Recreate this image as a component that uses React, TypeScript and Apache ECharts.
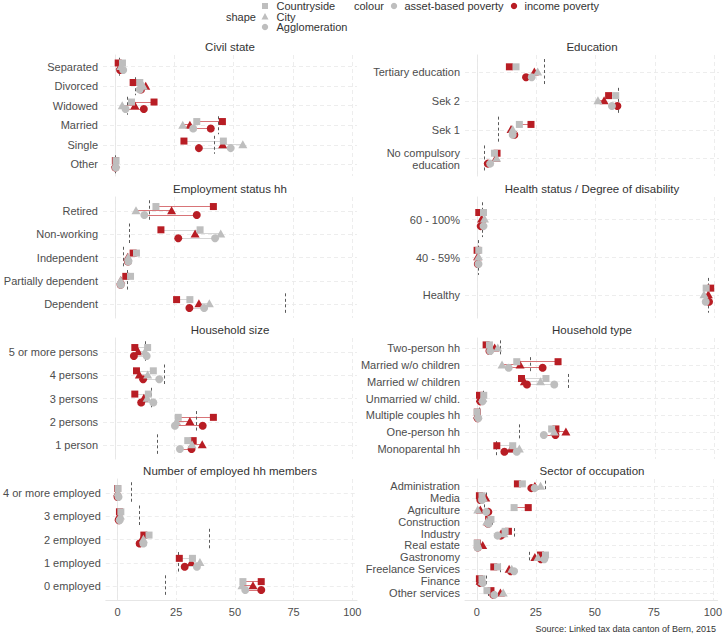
import React, { useEffect, useRef } from "react";
import * as echarts from "echarts";

// ---------- DATA ----------
// Order of value arrays: countryside (square), city (triangle), agglomeration (circle)
// "Asset" = asset-based poverty (grey), "Income" = income poverty (red), "Share" = dashed reference
const civilCats = ["Separated", "Divorced", "Widowed", "Married", "Single", "Other"];
const civilCsAsset = [3.2, 10.5, 7, 34.5, 45.7, 0.5];
const civilCsIncome = [1.4, 7.7, 16.5, 45.3, 29.1, 0.2];
const civilCiAsset = [2.5, 12, 3.1, 28.6, 53.9, 0.4];
const civilCiIncome = [2.2, 13, 8.4, 31.6, 45.4, 0.2];
const civilAgAsset = [3.5, 10.5, 4.5, 33, 48.8, 0.4];
const civilAgIncome = [2.2, 11, 12.2, 40.4, 35.4, 0.2];
const civilShare = [1.7, 8.6, 5.4, 43.6, 41.8, 0];

const eduCats = ["Tertiary education", "Sek 2", "Sek 1", "No compulsory\neducation"];
const eduCsAsset = [16.5, 58.5, 17.9, 7.4];
const eduCsIncome = [13.7, 55.5, 22.8, 8.5];
const eduCiAsset = [25.6, 51, 15.1, 8.3];
const eduCiIncome = [24.2, 53.6, 14.4, 8];
const eduAgAsset = [23.1, 56.9, 15.1, 5.6];
const eduAgIncome = [20.7, 59.2, 15.8, 4.6];
const eduShare = [28.4, 59.4, 9.2, 3.2];

const empCats = ["Retired", "Non-working", "Independent", "Partially dependent", "Dependent"];
const empCsAsset = [17.3, 35.9, 9.1, 6.6, 31.6];
const empCsIncome = [41.5, 19.4, 7.7, 4.6, 26];
const empCiAsset = [8.9, 44.6, 5.6, 2.4, 39.8];
const empCiIncome = [23.9, 33.8, 5.4, 2.5, 35.4];
const empAgAsset = [12.4, 42.2, 5.7, 2.5, 37.6];
const empAgIncome = [34.5, 26.7, 5.5, 2.4, 31.4];
const empShare = [14.5, 5.9, 3.5, 5.2, 71.9];

const healthCats = ["60 - 100%", "40 - 59%", "Healthy"];
const healthCsAsset = [2.8, 0.8, 96.6];
const healthCsIncome = [0.8, 0.1, 98.5];
const healthCiAsset = [3.2, 0.7, 95.7];
const healthCiIncome = [2, 0.3, 97.5];
const healthAgAsset = [2.8, 0.7, 96.4];
const healthAgIncome = [1.6, 0.4, 97.8];
const healthShare = [2.1, 0.6, 97.3];

const sizeCats = ["5 or more persons", "4 persons", "3 persons", "2 persons", "1 person"];
const sizeCsAsset = [13.8, 16.2, 14.1, 26.7, 30.7];
const sizeCsIncome = [8.4, 9.1, 8.4, 41.5, 33];
const sizeCiAsset = [12.7, 13.8, 13.6, 26, 32.5];
const sizeCiIncome = [9.8, 10.3, 12.2, 31.6, 36.8];
const sizeAgAsset = [13.4, 18.7, 16.2, 25.3, 27.4];
const sizeAgIncome = [8, 11.9, 11.1, 37, 32.3];
const sizeShare = [12.7, 20.9, 15.5, 34.2, 17.7];

const typeCats = ["Two-person hh", "Married w/o children", "Married w/ children", "Unmarried w/ child.", "Multiple couples hh", "One-person hh", "Monoparental hh"];
const typeCsAsset = [5.3, 16.8, 29.1, 2.9, 0.1, 31.5, 15.1];
const typeCsIncome = [3.9, 34.2, 18.8, 1.1, 0.2, 33.3, 8.4];
const typeCiAsset = [8.8, 10.6, 26.8, 2.5, 0.3, 32.6, 17.9];
const typeCiIncome = [7.5, 18.2, 20, 1.5, 0.2, 37.5, 14.4];
const typeAgAsset = [5.6, 13.4, 32.6, 2.4, 0.6, 28.2, 16.8];
const typeAgIncome = [5.3, 27.7, 21.1, 1.4, 0.3, 33.1, 11.6];
const typeShare = [9.8, 22.3, 38.5, 2.8, 0.8, 17.9, 8.1];

const emplCats = ["4 or more employed", "3 employed", "2 employed", "1 employed", "0 employed"];
const emplCsAsset = [0.2, 1.4, 13.4, 31.9, 53.4];
const emplCsIncome = [0, 0.8, 11.2, 26.3, 61.2];
const emplCiAsset = [0.1, 1.2, 11, 35.1, 53];
const emplCiIncome = [0, 0.6, 10.3, 31.4, 57.7];
const emplAgAsset = [0.4, 0.9, 11, 33.8, 54.4];
const emplAgIncome = [0, 0.5, 9.4, 28.6, 61.2];
const emplShare = [6, 9.4, 38.9, 26, 20.4];

const sectorCats = ["Administration", "Media", "Agriculture", "Construction", "Industry", "Real estate", "Gastronomy", "Freelance Services", "Finance", "Other services"];
const sectorCsAsset = [19.3, 2.2, 15.8, 6, 12, 0.1, 29.1, 8.8, 2.2, 4.3];
const sectorCsIncome = [17.2, 1.1, 21.8, 5, 13.4, 0.3, 27, 7.2, 1.1, 6];
const sectorCiAsset = [27, 2.8, 0.4, 4.2, 11.5, 0.5, 25.9, 14.8, 2.3, 11.2];
const sectorCiIncome = [24.6, 3.8, 1.5, 4.5, 10.3, 2.5, 24.6, 13.7, 1.4, 10];
const sectorAgAsset = [24.5, 2.2, 4, 5, 8.8, 0.3, 28.6, 15.8, 2.5, 7.4];
const sectorAgIncome = [23.1, 1.5, 4.9, 4.8, 10.2, 0.4, 27.2, 14.4, 1.5, 7];
const sectorShare = [29.1, 3.9, 3.2, 6.4, 15.8, 0.8, 22.1, 9.8, 4.2, 4.9];

const xTicks = [0, 25, 50, 75, 100];

const panels = [
  { title: "Civil state", cats: civilCats, vals: [civilCsAsset, civilCsIncome, civilCiAsset, civilCiIncome, civilAgAsset, civilAgIncome], share: civilShare },
  { title: "Education", cats: eduCats, vals: [eduCsAsset, eduCsIncome, eduCiAsset, eduCiIncome, eduAgAsset, eduAgIncome], share: eduShare },
  { title: "Employment status hh", cats: empCats, vals: [empCsAsset, empCsIncome, empCiAsset, empCiIncome, empAgAsset, empAgIncome], share: empShare },
  { title: "Health status / Degree of disability", cats: healthCats, vals: [healthCsAsset, healthCsIncome, healthCiAsset, healthCiIncome, healthAgAsset, healthAgIncome], share: healthShare },
  { title: "Household size", cats: sizeCats, vals: [sizeCsAsset, sizeCsIncome, sizeCiAsset, sizeCiIncome, sizeAgAsset, sizeAgIncome], share: sizeShare },
  { title: "Household type", cats: typeCats, vals: [typeCsAsset, typeCsIncome, typeCiAsset, typeCiIncome, typeAgAsset, typeAgIncome], share: typeShare },
  { title: "Number of employed hh members", cats: emplCats, vals: [emplCsAsset, emplCsIncome, emplCiAsset, emplCiIncome, emplAgAsset, emplAgIncome], share: emplShare },
  { title: "Sector of occupation", cats: sectorCats, vals: [sectorCsAsset, sectorCsIncome, sectorCiAsset, sectorCiIncome, sectorAgAsset, sectorAgIncome], share: sectorShare },
];

// ---------- STYLE ----------
const FONT = "Liberation Sans, Arial, Helvetica, sans-serif";
const GREY = "#bebebe";
const RED = "#b81d24";
const SEG_RED = "#d87478";
const SEG_GREY = "#d6d6d6";
const GRID = "#e8e8e8";
const TEXT = "#4d4d4d";
const COL_LEFT = [103, 465];
const PANEL_W = 254;
const ROW_TOP = [55, 197, 338, 479];
const PANEL_H = 121;
const X_MIN = -5;
const X_MAX = 102;

const shapes = [
  { symbol: "rect", size: 7, off: -0.19 },
  { symbol: "triangle", size: [9, 8], off: -0.03 },
  { symbol: "circle", size: 8, off: 0.17 },
];

function buildOption() {
  const grid: any[] = [];
  const xAxis: any[] = [];
  const yAxis: any[] = [];
  const series: any[] = [];
  const graphic: any[] = [];

  panels.forEach((p, i) => {
    const col = i % 2;
    const row = Math.floor(i / 2);
    const n = p.cats.length;
    const left = COL_LEFT[col];
    const top = ROW_TOP[row];
    grid.push({ left, top, width: PANEL_W, height: PANEL_H, containLabel: false });
    xAxis.push({
      gridIndex: i,
      type: "value",
      min: X_MIN,
      max: X_MAX,
      axisLabel: {
        show: row === 3,
        customValues: xTicks,
        color: TEXT,
        fontSize: 11,
        fontFamily: FONT,
        margin: 6,
      },
      axisTick: { show: false },
      axisLine: { show: row === 3, lineStyle: { color: "#e6e6e6", width: 1 } },
      splitLine: { show: false },
    });
    const idx = p.cats.map((_, k) => k + 1);
    yAxis.push({
      gridIndex: i,
      type: "value",
      min: 0.4,
      max: n + 0.6,
      inverse: true,
      axisLabel: {
        customValues: idx,
        formatter: (v: number) => p.cats[Math.round(v) - 1] ?? "",
        color: TEXT,
        fontSize: 11,
        fontFamily: FONT,
        margin: 5,
        lineHeight: 12,
      },
      axisTick: { show: false },
      axisLine: { show: true, lineStyle: { color: "#e6e6e6", width: 1 } },
      splitLine: { show: false },
    });

    // grid lines
    const gl: any[] = [];
    idx.forEach((k) => gl.push({ coords: [[X_MIN, k], [X_MAX, k]] }));
    xTicks.forEach((t) => gl.push({ coords: [[t, 0.4], [t, n + 0.6]] }));
    series.push({
      type: "lines",
      coordinateSystem: "cartesian2d",
      xAxisIndex: i,
      yAxisIndex: i,
      silent: true,
      z: 1,
      lineStyle: { color: GRID, width: 0.8, type: [4, 3], opacity: 1 },
      data: gl,
    });

    // connecting segments
    const segs: any[] = [];
    shapes.forEach((s, si) => {
      const a = p.vals[si * 2];
      const inc = p.vals[si * 2 + 1];
      idx.forEach((k, j) => {
        const y = k + s.off;
        segs.push({
          coords: [[a[j], y], [inc[j], y]],
          lineStyle: { color: inc[j] > a[j] ? SEG_RED : SEG_GREY },
        });
      });
    });
    series.push({
      type: "lines",
      coordinateSystem: "cartesian2d",
      xAxisIndex: i,
      yAxisIndex: i,
      silent: true,
      z: 2,
      lineStyle: { width: 1.2, opacity: 1 },
      data: segs,
    });

    // dashed share reference
    series.push({
      type: "lines",
      coordinateSystem: "cartesian2d",
      xAxisIndex: i,
      yAxisIndex: i,
      silent: true,
      z: 3,
      lineStyle: { color: "#5a5a5a", width: 1, type: [3, 2.5], opacity: 1 },
      data: p.share.map((v, j) => ({ coords: [[v, idx[j] - 0.46], [v, idx[j] + 0.46]] })),
    });

    // points: red (income) first, grey (asset) drawn on top
    [false, true].forEach((isAsset) => {
      shapes.forEach((s, si) => {
        const arr = p.vals[si * 2 + (isAsset ? 0 : 1)];
        series.push({
          type: "scatter",
          xAxisIndex: i,
          yAxisIndex: i,
          symbol: s.symbol,
          symbolSize: s.size,
          z: isAsset ? 5 : 4,
          silent: true,
          itemStyle: { color: isAsset ? GREY : RED, opacity: 1 },
          data: arr.map((v, j) => [v, idx[j] + s.off]),
        });
      });
    });

    graphic.push({
      type: "text",
      x: left + PANEL_W / 2,
      y: top - 8,
      style: {
        text: p.title,
        textAlign: "center",
        textVerticalAlign: "middle",
        fontSize: 11.5,
        fontFamily: FONT,
        fill: "#333333",
      },
    });
  });

  // legend
  const lt = (text: string, x: number, y: number) => ({
    type: "text",
    x,
    y,
    style: { text, textVerticalAlign: "middle", fontSize: 11, fontFamily: FONT, fill: "#333333" },
  });
  const LX = 265;
  graphic.push(lt("shape", 226, 16.5));
  graphic.push({ type: "rect", shape: { x: LX - 3, y: 3, width: 6, height: 6 }, style: { fill: GREY } });
  graphic.push({ type: "polygon", shape: { points: [[LX, 13], [LX + 3.5, 19.5], [LX - 3.5, 19.5]] }, style: { fill: GREY } });
  graphic.push({ type: "circle", shape: { cx: LX, cy: 27, r: 3.2 }, style: { fill: GREY } });
  graphic.push(lt("Countryside", 276.5, 6));
  graphic.push(lt("City", 276.5, 16.5));
  graphic.push(lt("Agglomeration", 276.5, 27));
  graphic.push(lt("colour", 354, 6));
  graphic.push({ type: "circle", shape: { cx: 394, cy: 6, r: 3.2 }, style: { fill: GREY } });
  graphic.push(lt("asset-based poverty", 404.5, 6));
  graphic.push({ type: "circle", shape: { cx: 514, cy: 6, r: 3.2 }, style: { fill: RED } });
  graphic.push(lt("income poverty", 524.5, 6));

  graphic.push({
    type: "text",
    x: 716,
    y: 629,
    style: {
      text: "Source: Linked tax data canton of Bern, 2015",
      textAlign: "right",
      textVerticalAlign: "middle",
      fontSize: 9,
      fontFamily: FONT,
      fill: "#333333",
    },
  });

  return {
    animation: false,
    backgroundColor: "#ffffff",
    textStyle: { fontFamily: FONT },
    grid,
    xAxis,
    yAxis,
    series,
    graphic,
  };
}

export default function App() {
  const ref = useRef<HTMLDivElement>(null);
  useEffect(() => {
    document.body.style.margin = "0";
    if (!ref.current) return;
    const chart = echarts.init(ref.current, undefined, { renderer: "svg" });
    chart.setOption(buildOption() as any);
    return () => chart.dispose();
  }, []);
  return <div ref={ref} style={{ width: 725, height: 637 }} />;
}
